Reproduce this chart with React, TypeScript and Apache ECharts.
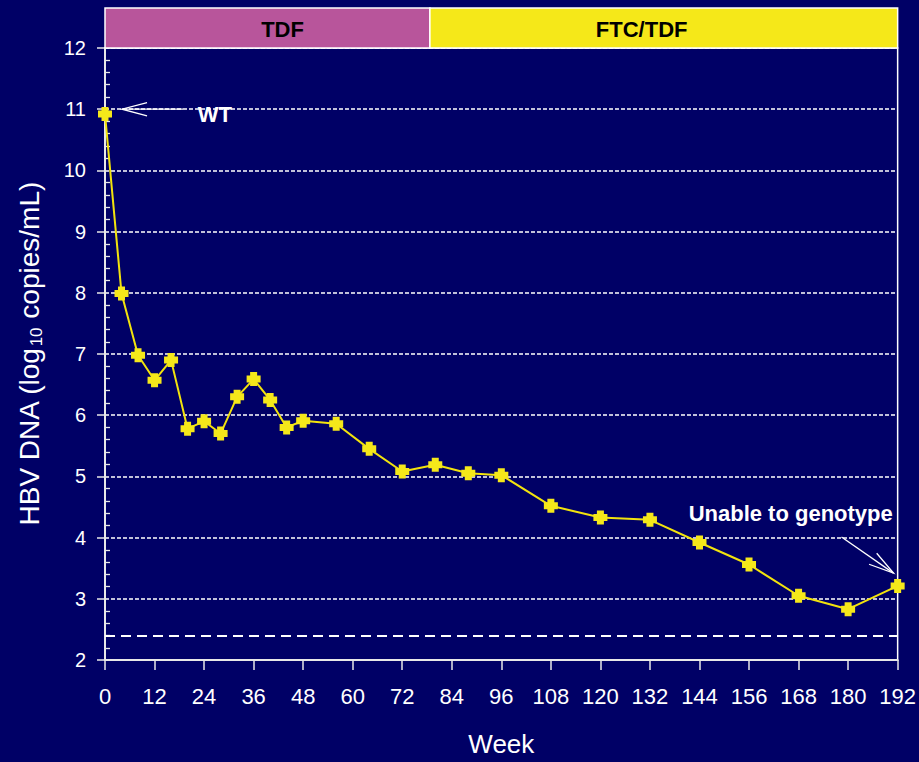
import React, { useEffect, useRef } from "react";
import * as echarts from "echarts";

const weeks = [0, 4, 8, 12, 16, 20, 24, 28, 32, 36, 40, 44, 48, 56, 64, 72, 80, 88, 96, 108, 120, 132, 144, 156, 168, 180, 192];
const hbvDNA = [10.92, 7.99, 6.98, 6.57, 6.9, 5.78, 5.9, 5.7, 6.3, 6.59, 6.25, 5.8, 5.91, 5.86, 5.45, 5.08, 5.19, 5.05, 5.02, 4.52, 4.33, 4.29, 3.92, 3.56, 3.05, 2.83, 3.21];
const lloq = 2.4;
const phases = [
  { name: "TDF", from: 0, to: 78.7, color: "#b8559b", labelAt: 43 },
  { name: "FTC/TDF", from: 78.7, to: 192, color: "#f5e819", labelAt: 130 },
];
const annotations = [
  { text: "WT", at: [26.6, 10.92], tip: [4.1, 11.0], tail: [18.9, 11.0] },
  { text: "Unable to genotype", at: [166.1, 4.4], tip: [191.0, 3.42], tail: [178.4, 4.01] },
];

const BG = "#000066";
const SANS = '"Liberation Sans", Arial, sans-serif';
const PLUS = "path://M3,0H9V3H12V9H9V12H3V9H0V3H3Z";

export default function App() {
  const ref = useRef<HTMLDivElement>(null);
  useEffect(() => {
    if (!ref.current) return;
    const chart = echarts.init(ref.current, null, { renderer: "svg" });
    const gridTop = 48;
    chart.setOption({
      animation: false,
      backgroundColor: BG,
      grid: {
        left: 105,
        right: 21,
        top: gridTop,
        bottom: 101,
        show: true,
        borderColor: "#ffffff",
        borderWidth: 1.5,
        backgroundColor: "transparent",
      },
      xAxis: {
        type: "value",
        min: 0,
        max: 192,
        interval: 12,
        name: "Week",
        nameLocation: "middle",
        nameGap: 71,
        nameTextStyle: { color: "#ffffff", fontSize: 26, fontFamily: SANS },
        axisLine: { lineStyle: { color: "#e8e8e8", width: 2 } },
        axisTick: { show: true, length: 10, lineStyle: { color: "#e8e8e8", width: 1.5 } },
        axisLabel: { color: "#ffffff", fontSize: 22, fontFamily: SANS, margin: 25 },
        splitLine: { show: false },
      },
      yAxis: [
        {
          type: "value",
          min: 2,
          max: 12,
          interval: 1,
          position: "left",
          name: "{a|HBV DNA (log}{s|10}{a| copies/mL)}",
          nameLocation: "middle",
          nameGap: 60,
          nameRotate: 90,
          nameTextStyle: {
            color: "#ffffff",
            rich: {
              a: { color: "#ffffff", fontSize: 28, fontFamily: SANS, lineHeight: 30, verticalAlign: "top" },
              s: { color: "#ffffff", fontSize: 17, fontFamily: SANS, lineHeight: 17, verticalAlign: "bottom", padding: [18, 1, 0, 1] },
            },
          },
          axisLine: { show: true, lineStyle: { color: "#e8e8e8", width: 2 } },
          axisTick: { show: true, length: 8, lineStyle: { color: "#e8e8e8", width: 1.5 } },
          axisLabel: { color: "#ffffff", fontSize: 20, fontFamily: SANS, margin: 19 },
          splitLine: { show: true, lineStyle: { color: "#ffffff", width: 1.5, type: [4, 2] } },
        },
        {
          type: "value",
          min: 2,
          max: 12,
          interval: 1,
          position: "left",
          axisLine: { show: false },
          axisTick: { show: false, inside: true },
          minorTick: { show: true, splitNumber: 5, length: 5, lineStyle: { color: "#e8e8e8", width: 1.3 } },
          axisLabel: { show: false },
          splitLine: { show: false },
        },
      ],
      series: [
        {
          type: "line",
          data: weeks.map((w, i) => [w, hbvDNA[i]]),
          symbol: PLUS,
          symbolSize: 14,
          showAllSymbol: true,
          lineStyle: { color: "#f2e30d", width: 2 },
          itemStyle: { color: "#f5e81a", borderWidth: 0 },
          z: 5,
          markLine: {
            silent: true,
            symbol: ["none", "none"],
            label: { show: false },
            lineStyle: { color: "#ffffff", width: 2, type: [10, 6] },
            data: [{ yAxis: lloq }],
          },
        },
      ],
    });

    const px = (p: number[]) => chart.convertToPixel({ gridIndex: 0 }, p) as number[];
    const graphics: any[] = [];
    phases.forEach((ph) => {
      const x0 = px([ph.from, 12])[0];
      const x1 = px([ph.to, 12])[0];
      graphics.push({
        type: "rect",
        shape: { x: x0, y: 8, width: x1 - x0, height: gridTop - 8 },
        style: { fill: ph.color, stroke: "#ffffff", lineWidth: 1.5 },
        z: 10,
      });
      graphics.push({
        type: "text",
        x: px([ph.labelAt, 12])[0],
        y: 29,
        style: {
          text: ph.name,
          fill: "#000000",
          fontSize: 22,
          fontWeight: "bold",
          fontFamily: SANS,
          align: "center",
          verticalAlign: "middle",
        },
        z: 11,
      });
    });
    annotations.forEach((an) => {
      const [tx, ty] = px(an.tip);
      const [sx, sy] = px(an.tail);
      const ang = Math.atan2(sy - ty, sx - tx);
      const len = 26;
      const spread = 0.26;
      graphics.push({
        type: "line",
        shape: { x1: sx, y1: sy, x2: tx, y2: ty },
        style: { stroke: "#ffffff", lineWidth: 1.3 },
        z: 12,
      });
      graphics.push({
        type: "polyline",
        shape: {
          points: [
            [tx + len * Math.cos(ang + spread), ty + len * Math.sin(ang + spread)],
            [tx, ty],
            [tx + len * Math.cos(ang - spread), ty + len * Math.sin(ang - spread)],
          ],
        },
        style: { stroke: "#ffffff", lineWidth: 1.3, fill: null },
        z: 12,
      });
      const [ax, ay] = px(an.at);
      graphics.push({
        type: "text",
        x: ax,
        y: ay,
        style: {
          text: an.text,
          fill: "#ffffff",
          fontSize: 22,
          fontWeight: "bold",
          fontFamily: SANS,
          align: "center",
          verticalAlign: "middle",
        },
        z: 12,
      });
    });
    chart.setOption({ graphic: graphics });

    return () => chart.dispose();
  }, []);
  return (
    <div
      ref={ref}
      style={{ position: "fixed", left: 0, top: 0, width: 919, height: 762, background: BG }}
    />
  );
}
